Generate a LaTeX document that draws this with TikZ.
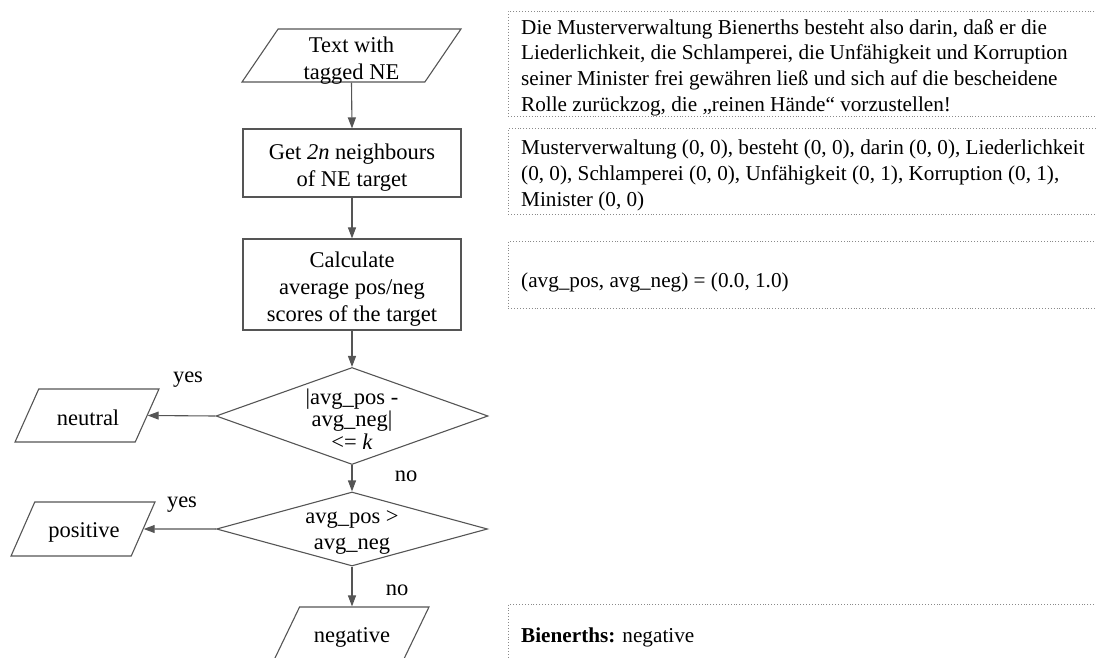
\documentclass[tikz,border=0pt]{standalone}
\usepackage{fontspec}
\setmainfont{Liberation Serif}
\usetikzlibrary{shapes.geometric,arrows.meta}
\definecolor{linegray}{HTML}{555555}
\definecolor{dotgray}{HTML}{8A8A8A}
\newcommand\flowfont{\fontsize{22.5}{27}\selectfont}
\newcommand\sidefont{\fontsize{21.2}{25.7}\selectfont}
\begin{document}
\begin{tikzpicture}[x=1pt,y=-1pt,
  flowbox/.style={rectangle, draw=linegray, line width=1.1pt, minimum width=218, inner sep=0},
  io/.style={trapezium, trapezium left angle=75, trapezium right angle=105, trapezium stretches=true, draw=linegray, line width=1.1pt, inner sep=0},
  decision/.style={diamond, draw=linegray, line width=1.1pt, inner sep=0},
  ftext/.style={font=\flowfont, align=center, inner sep=0},
  note/.style={draw=dotgray, dotted, line width=0.9pt, minimum width=600, inner sep=0, anchor=north west},
  ntext/.style={font=\sidefont, align=left, inner sep=0, anchor=west},
  arr/.style={draw=linegray, line width=1.1pt, -{Triangle[length=11pt,width=8pt]}},
  lbl/.style={font=\flowfont, inner sep=0}]
\useasboundingbox (0,0) rectangle (1096,658);

% flowchart shapes
\node[io, minimum width=219, minimum height=53] (start) at (351.5,55.5) {\phantom{x}};
\node[flowbox, minimum height=68] (get) at (352,163) {};
\node[flowbox, minimum height=91] (calc) at (352,284.5) {};
\node[decision, minimum width=272, minimum height=97] (d1) at (352,416) {\phantom{x}};
\node[decision, minimum width=271, minimum height=74] (d2) at (352,529) {\phantom{x}};
\node[io, minimum width=144, minimum height=53] (neu) at (87,415.5) {\phantom{x}};
\node[io, minimum width=144, minimum height=54] (pos) at (83,529) {\phantom{x}};
\node[io, minimum width=155, minimum height=53] (neg) at (351.5,633.5) {\phantom{x}};

% flowchart texts
\node[ftext] (startt) at (351.5,60.5) {Text with\\tagged NE};
\node[ftext] (gett) at (352,167.5) {Get \textit{2n} neighbours\\of NE target};
\node[ftext] (calct) at (352,289.5) {Calculate\\average pos/neg\\scores of the target};
\node[ftext, font=\fontsize{22.5}{22.7}\selectfont] (d1t) at (352,419) {|avg\_pos -\\avg\_neg|\\<= \textit{k}};
\node[ftext, font=\fontsize{22.5}{26}\selectfont] (d2t) at (352,532.5) {avg\_pos >\\avg\_neg};
\node[ftext] (neut) at (88,417.5) {neutral};
\node[ftext] (post) at (84,532) {positive};
\node[ftext] (negt) at (352,637.5) {negative};

% connectors
\draw[arr] (start.south) -- (get.north);
\draw[arr] (get.south) -- (calc.north);
\draw[arr] (calc.south) -- (d1.north);
\draw[arr] (d1.west) -- (neu.east);
\draw[arr] (d1.south) -- (d2.north);
\draw[arr] (d2.west) -- (pos.east);
\draw[arr] (d2.south) -- (d2.south |- neg.north);

\node[lbl] (yes1) at (188,380) {yes};
\node[lbl] (yes2) at (182,505) {yes};
\node[lbl] (no1) at (406,476) {no};
\node[lbl] (no2) at (397,590) {no};

% notes
\node[note, minimum height=105] (n1) at (508,11) {};
\node[ntext] (n1t) at (521,67.5) {Die Musterverwaltung Bienerths besteht also darin, daß er die\\Liederlichkeit, die Schlamperei, die Unfähigkeit und Korruption\\seiner Minister frei gewähren ließ und sich auf die bescheidene\\Rolle zurückzog, die „reinen Hände“ vorzustellen!};
\node[note, minimum height=86] (n2) at (508,128) {};
\node[ntext] (n2t) at (521,175.5) {Musterverwaltung (0, 0), besteht (0, 0), darin (0, 0), Liederlichkeit\\(0, 0), Schlamperei (0, 0), Unfähigkeit (0, 1), Korruption (0, 1),\\Minister (0, 0)};
\node[note, minimum height=67] (n3) at (508,241) {};
\node[ntext] (n3t) at (521,282) {(avg\_pos, avg\_neg) = (0.0, 1.0)};
\node[note, minimum height=70] (n4) at (508,604) {};
\node[ntext] (n4t) at (521,637) {\textbf{Bienerths:} negative};
\end{tikzpicture}
\end{document}
